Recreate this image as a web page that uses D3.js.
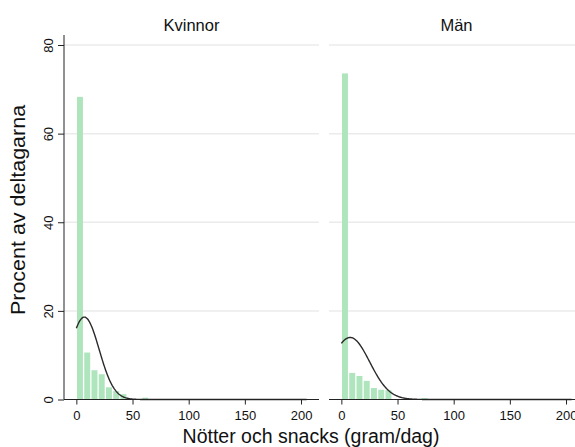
<!DOCTYPE html>
<html>
<head>
<meta charset="utf-8">
<script src="https://cdn.jsdelivr.net/npm/d3@7"></script>
<style>
  html, body { margin: 0; padding: 0; background: #fff; }
  svg { display: block; }
  text { font-family: "Liberation Sans", Arial, Helvetica, sans-serif; fill: #111; }
</style>
</head>
<body>
<svg id="chart" width="575" height="447"></svg>
<script>
// ---- data ----
const panels = ["Kvinnor", "Män"];
const binWidth = 6.45;
const kvinnorPct = [68.3, 10.6, 6.6, 5.7, 2.75, 1.9, 1.2, 0, 0, 0.4];
const manPct = [73.6, 6.0, 5.3, 4.2, 2.6, 2.2, 2.1, 0, 0, 0, 0, 0.3];
// fitted normal overlay (mean, sd, peak height in percent)
const normMean = [7.1, 7.8];
const normSd = [13.2, 17.4];
const normPeak = [18.6, 14.0];
const xTicks = [0, 50, 100, 150, 200];
const yTicks = [0, 20, 40, 60, 80];
const yTitle = "Procent av deltagarna";
const xTitle = "Nötter och snacks (gram/dag)";

const series = [kvinnorPct, manPct];

const svg = d3.select("#chart");
const panelLeft = [64, 329];
const panelW = 255;
const yTop = 35, yBottom = 399.5;

const y = d3.scaleLinear().domain([0, 82.26]).range([yBottom, yTop]);

panels.forEach((name, p) => {
  const x = d3.scaleLinear().domain([-11, 216]).range([panelLeft[p], panelLeft[p] + panelW]);
  const g = svg.append("g");

  // gridlines
  g.selectAll("line.grid").data(yTicks.filter(t => t > 0)).enter().append("line")
    .attr("x1", panelLeft[p]).attr("x2", panelLeft[p] + panelW)
    .attr("y1", d => y(d)).attr("y2", d => y(d))
    .attr("stroke", "#ebebeb").attr("stroke-width", 1.5);

  // bars
  const gap = 1.3;
  g.selectAll("rect.bar").data(series[p]).enter().append("rect")
    .attr("x", (d, i) => x(i * binWidth) + gap / 2)
    .attr("width", (d, i) => x((i + 1) * binWidth) - x(i * binWidth) - gap)
    .attr("y", d => y(d))
    .attr("height", d => y(0) - y(d))
    .attr("fill", "#aee5bd");

  // normal curve
  const xs = d3.range(0, 205.01, 0.5);
  const pts = xs.map(v => [v, normPeak[p] * Math.exp(-((v - normMean[p]) ** 2) / (2 * normSd[p] ** 2))]);
  const line = d3.line().x(d => x(d[0])).y(d => y(d[1])).curve(d3.curveLinear);
  g.append("path").attr("d", line(pts))
    .attr("fill", "none").attr("stroke", "#2a2a2a").attr("stroke-width", 1.4);

  // x axis
  const xAxis = d3.axisBottom(x).tickValues(xTicks).tickSize(5).tickPadding(6).tickSizeOuter(0);
  const ax = g.append("g").attr("transform", `translate(0,${yBottom})`).call(xAxis);
  ax.select(".domain").attr("stroke", "#222").attr("d", `M${panelLeft[p]},0H${panelLeft[p] + panelW}`);
  ax.selectAll(".tick line").attr("stroke", "#222");
  ax.selectAll(".tick text").attr("font-size", 13).style("font-family", '"Liberation Sans", Arial, sans-serif').attr("fill", "#111");

  // panel title
  g.append("text").attr("x", panelLeft[p] + panelW / 2).attr("y", 31)
    .attr("text-anchor", "middle").attr("font-size", 16.5).text(name);

  if (p === 0) {
    const yAxis = d3.axisLeft(y).tickValues(yTicks).tickSize(6).tickSizeOuter(0);
    const ay = g.append("g").attr("transform", `translate(${panelLeft[p]},0)`).call(yAxis);
    ay.select(".domain").attr("stroke", "#222").attr("d", `M0,${yBottom}V${yTop}`);
    ay.selectAll(".tick line").attr("stroke", "#222");
    ay.selectAll(".tick text")
      .attr("x", null).attr("dy", null)
      .attr("font-size", 13).style("font-family", '"Liberation Sans", Arial, sans-serif').attr("fill", "#111")
      .attr("text-anchor", "middle")
      .attr("transform", "translate(-11.5,0) rotate(-90)");
  }
});

// axis titles
svg.append("text").attr("x", 311).attr("y", 443).attr("text-anchor", "middle")
  .attr("font-size", 19.5).text(xTitle);
svg.append("text").attr("transform", "translate(25,210) scale(0.9,1) rotate(-90)")
  .attr("text-anchor", "middle").attr("font-size", 21.5).text(yTitle);
</script>
</body>
</html>
